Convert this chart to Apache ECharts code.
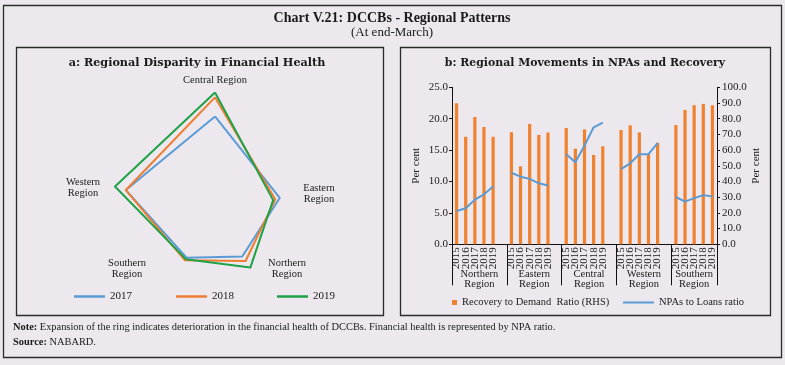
<!DOCTYPE html>
<html>
<head>
<meta charset="utf-8">
<script src="https://cdn.jsdelivr.net/npm/echarts@6/dist/echarts.min.js"></script>
<style>html,body{margin:0;padding:0;background:#ece8ee;}#c{width:785px;height:365px;}</style>
</head>
<body>
<div id="c"></div>
<script>
// ---- data ----
var regions = ['Northern', 'Eastern', 'Central', 'Western', 'Southern'];
var years = ['2015', '2016', '2017', '2018', '2019'];
// Recovery to Demand Ratio (RHS), per cent
var recNorthern = [89.8, 68.5, 81.1, 74.7, 68.5];
var recEastern  = [71.4, 49.7, 76.7, 69.7, 71.2];
var recCentral  = [74.1, 60.9, 73.2, 56.9, 62.4];
var recWestern  = [72.8, 75.8, 71.3, 57.5, 64.7];
var recSouthern = [75.9, 85.6, 88.6, 89.4, 88.6];
// NPAs to Loans ratio, per cent
var npaNorthern = [5.30, 5.75, 7.10, 7.96, 9.20];
var npaEastern  = [11.40, 10.77, 10.42, 9.71, 9.36];
var npaCentral  = [14.33, 13.06, 15.71, 18.63, 19.37];
var npaWestern  = [11.97, 12.90, 14.35, 14.35, 16.10];
var npaSouthern = [7.53, 6.79, 7.35, 7.83, 7.60];
var radarYears = ['2017', '2018', '2019'];
var radarOrder = ['Central', 'Western', 'Southern', 'Northern', 'Eastern'];
var leftTicks = {min: 0, max: 25, interval: 5};
var rightTicks = {min: 0, max: 100, interval: 10};

var recBy = {Northern: recNorthern, Eastern: recEastern, Central: recCentral, Western: recWestern, Southern: recSouthern};
var npaBy = {Northern: npaNorthern, Eastern: npaEastern, Central: npaCentral, Western: npaWestern, Southern: npaSouthern};

// ---- build category axis with a blank slot between groups ----
var cats = [], barData = [], lineData = [], groupStart = [], groupCenter = [];
regions.forEach(function (r, g) {
  groupStart.push(cats.length);
  years.forEach(function (y, i) {
    cats.push(y); barData.push(recBy[r][i]); lineData.push(npaBy[r][i]);
  });
  if (g < regions.length - 1) { cats.push(''); barData.push(null); lineData.push(null); }
});
groupStart.push(cats.length);
for (var g = 0; g < regions.length; g++) groupCenter.push((groupStart[g] + groupStart[g + 1]) / 2);

var colors = {'2017': '#5B9BD5', '2018': '#EE7D31', '2019': '#1FA147'};
var radarData = radarYears.map(function (y) {
  var yi = years.indexOf(y);
  return {name: y, value: radarOrder.map(function (r) { return npaBy[r][yi]; }),
    lineStyle: {color: colors[y], width: 2}, itemStyle: {color: colors[y]}};
});

var SERIF = '"Liberation Serif", "Times New Roman", serif';
var WIDE = '"DejaVu Serif", serif';
var txtCol = '#1a1a1a';

function txt(x, y, text, size, opt) {
  opt = opt || {};
  return {type: 'text', x: x, y: y, z: 10, style: {
    text: text, fill: txtCol, fontSize: size, fontFamily: opt.family || SERIF,
    fontWeight: opt.bold ? 'bold' : 'normal', align: opt.align || 'center',
    verticalAlign: 'middle', lineHeight: opt.lh || size * 1.05, rich: opt.rich
  }};
}
function frame(x, y, w, h) {
  return {type: 'rect', z: 1, shape: {x: x, y: y, width: w, height: h},
    style: {fill: 'none', stroke: '#2b2b2b', lineWidth: 1.3}};
}
function lg(name, left, top, w, h, size) {
  return {data: [name], left: left, top: top, padding: 0, icon: 'rect', itemWidth: w, itemHeight: h,
    textStyle: {fontFamily: SERIF, fontSize: size, color: txtCol}};
}

var chart = echarts.init(document.getElementById('c'), null, {renderer: 'canvas'});
var option = {
  backgroundColor: '#ece8ee',
  animation: false,
  graphic: [
    frame(3.5, 5.5, 778, 352),
    frame(16.5, 47.5, 367, 268),
    frame(400.5, 47.5, 370, 268),
    txt(392, 18, 'Chart V.21: DCCBs - Regional Patterns', 14, {bold: true}),
    txt(392, 33, '(At end-March)', 13),
    txt(197, 63, 'a: Regional Disparity in Financial Health', 11.2, {bold: true, family: WIDE}),
    txt(585, 63, 'b: Regional Movements in NPAs and Recovery', 10.9, {bold: true, family: WIDE}),
    txt(215, 80, 'Central Region', 10.5),
    txt(83, 188, 'Western\nRegion', 10.5, {lh: 11}),
    txt(319, 193.5, 'Eastern\nRegion', 10.5, {lh: 11}),
    txt(287, 269, 'Northern\nRegion', 10.5, {lh: 11}),
    txt(127, 269, 'Southern\nRegion', 10.5, {lh: 11}),
    txt(13, 327, '{b|Note:} Expansion of the ring indicates deterioration in the financial health of DCCBs. Financial health is represented by NPA ratio.', 10.4, {align: 'left', rich: {b: {fontWeight: 'bold', fontSize: 10.4, fontFamily: SERIF, fill: txtCol}}}),
    txt(13, 342, '{b|Source:} NABARD.', 10.4, {align: 'left', rich: {b: {fontWeight: 'bold', fontSize: 10.4, fontFamily: SERIF, fill: txtCol}}})
  ],
  legend: [
    lg('2017', 74, 291, 31, 2.5, 11),
    lg('2018', 176, 291, 31, 2.5, 11),
    lg('2019', 277, 291, 31, 2.5, 11),
    lg('Recovery to Demand  Ratio (RHS)', 452, 297, 5, 5, 10.5),
    lg('NPAs to Loans ratio', 623, 297, 31, 2, 10.5)
  ],
  radar: {
    center: [215, 219], radius: 130.6, startAngle: 90, shape: 'polygon',
    indicator: radarOrder.map(function (r) { return {name: r + ' Region', min: 0, max: 20}; }),
    axisName: {show: false}, splitLine: {show: false}, splitArea: {show: false},
    axisLine: {show: false}, axisTick: {show: false}, axisLabel: {show: false}
  },
  grid: {left: 452, right: 68, top: 87.3, bottom: 120.7, containLabel: false},
  xAxis: [
    {type: 'category', data: cats, position: 'bottom',
      axisLine: {show: true, lineStyle: {color: '#111', width: 1}},
      axisTick: {show: false},
      axisLabel: {interval: 0, rotate: 90, margin: 3, fontFamily: SERIF, fontSize: 11, color: txtCol}},
    {type: 'value', min: 0, max: cats.length, position: 'bottom',
      axisLine: {show: false}, splitLine: {show: false},
      axisTick: {show: true, length: 41, customValues: groupStart, lineStyle: {color: '#111', width: 1}},
      axisLabel: {customValues: groupCenter, margin: 25, fontFamily: SERIF, fontSize: 10.5, color: txtCol, lineHeight: 10,
        formatter: function (v) { var i = groupCenter.indexOf(v); return i >= 0 ? regions[i] + '\nRegion' : ''; }}}
  ],
  yAxis: [
    {type: 'value', min: leftTicks.min, max: leftTicks.max, interval: leftTicks.interval, position: 'left',
      name: 'Per cent', nameLocation: 'middle', nameRotate: 90, nameGap: 30,
      nameTextStyle: {fontFamily: SERIF, fontSize: 11, color: txtCol},
      axisLine: {show: true, lineStyle: {color: '#111'}}, axisTick: {show: true, length: 3, lineStyle: {color: '#111'}},
      splitLine: {show: false},
      axisLabel: {margin: 4, fontFamily: SERIF, fontSize: 11, color: txtCol, formatter: function (v) { return v.toFixed(1); }}},
    {type: 'value', min: rightTicks.min, max: rightTicks.max, interval: rightTicks.interval, position: 'right',
      name: 'Per cent', nameLocation: 'middle', nameRotate: 90, nameGap: 28,
      nameTextStyle: {fontFamily: SERIF, fontSize: 11, color: txtCol},
      axisLine: {show: true, lineStyle: {color: '#111'}}, axisTick: {show: true, length: 3, lineStyle: {color: '#111'}},
      splitLine: {show: false},
      axisLabel: {margin: 5, fontFamily: SERIF, fontSize: 11, color: txtCol, formatter: function (v) { return v.toFixed(1); }}}
  ],
  series: [
    {type: 'radar', data: radarData, symbol: 'none'},
    {type: 'bar', name: 'Recovery to Demand  Ratio (RHS)', xAxisIndex: 0, yAxisIndex: 1, data: barData,
      barWidth: 3.2, itemStyle: {color: '#F0812E'}},
    {type: 'line', name: 'NPAs to Loans ratio', xAxisIndex: 0, yAxisIndex: 0, data: lineData,
      symbol: 'none', connectNulls: false, lineStyle: {color: '#5B9BD5', width: 2}, itemStyle: {color: '#5B9BD5'}, z: 3}
  ]
};
chart.setOption(option);
</script>
</body>
</html>
